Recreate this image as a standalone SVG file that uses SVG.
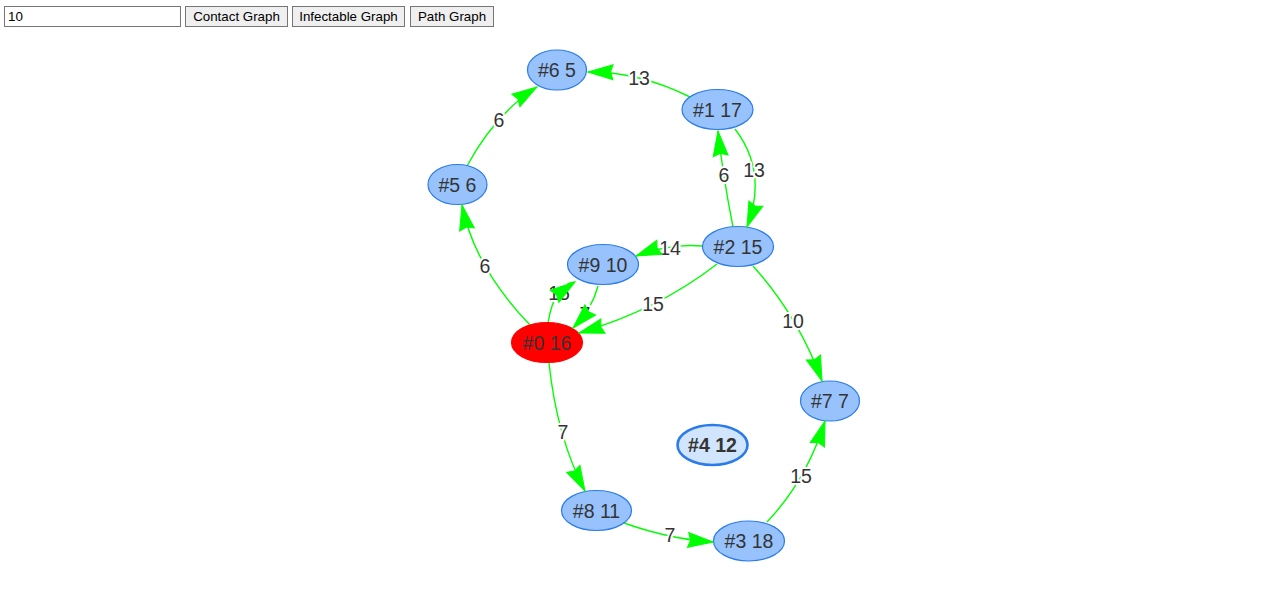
<svg xmlns="http://www.w3.org/2000/svg" width="1270" height="605" viewBox="0 0 1270 605">
<style>
.ui{font-family:"Liberation Sans",Arial,sans-serif;font-size:13.33px;fill:#000}
.btn{fill:#efefef;stroke:#767676;stroke-width:1}
.e{fill:none;stroke:#00ff00;stroke-width:1.4}
.el{font-family:"Liberation Sans",Arial,sans-serif;font-size:19.5px;fill:#343434;stroke:#fff;stroke-width:4;paint-order:stroke;stroke-linejoin:round;text-anchor:middle;dominant-baseline:central}
.n{fill:#97C2FC;stroke:#2B7CE9;stroke-width:1.2}
.nl{font-family:"Liberation Sans",Arial,sans-serif;font-size:19.5px;fill:#343434;text-anchor:middle;dominant-baseline:central}
.ah{fill:#00ff00;stroke:#00ff00;stroke-width:1}
</style>
<defs>
<path id="arr" d="M0,0 L-25,-7.5 L-22.5,0 L-25,7.5 Z"/>
</defs>
<rect width="1270" height="605" fill="#fff"/>
<g id="controls">
<rect x="4.5" y="6.5" width="176" height="20" fill="#fff" stroke="#767676"/>
<text class="ui" x="8" y="21">10</text>
<rect class="btn" x="185.5" y="6.5" width="102" height="20"/>
<text class="ui" x="236.5" y="21" text-anchor="middle">Contact Graph</text>
<rect class="btn" x="292.5" y="6.5" width="112" height="20"/>
<text class="ui" x="348.5" y="21" text-anchor="middle">Infectable Graph</text>
<rect class="btn" x="410.5" y="6.5" width="83" height="20"/>
<text class="ui" x="452" y="21" text-anchor="middle">Path Graph</text>
</g>
<g id="connectors">
<path class="e" d="M690,97 Q639,71.5 588,72"/>
<path class="e" d="M467,166 Q495.5,113.5 537,87"/>
<path class="e" d="M530,325 Q474,266.5 462,205"/>
<path class="e" d="M735,129 Q768,172 747,227"/>
<path class="e" d="M733,227 Q722.5,173.5 718,131"/>
<path class="e" d="M703,246 Q671,243 636,256"/>
<path class="e" d="M717,264 Q658,310 579,333"/>
<path class="e" d="M548,323 Q554.5,283.5 575,282"/>
<path class="e" d="M598,286 Q592.5,308.5 573,328"/>
<path class="e" d="M753,266 Q798.5,316.5 822,381"/>
<path class="e" d="M549,363 Q557,438 585,491"/>
<path class="e" d="M624,523 Q671,539.5 713,542"/>
<path class="e" d="M767,522 Q806.5,480.5 825,421"/>
<g id="edge-labels">
<text class="el" x="639" y="78">13</text>
<text class="el" x="499" y="120">6</text>
<text class="el" x="485" y="266">6</text>
<text class="el" x="754" y="170">13</text>
<text class="el" x="724" y="175">6</text>
<text class="el" x="670" y="248">14</text>
<text class="el" x="653" y="304">15</text>
<text class="el" x="559" y="293">15</text>
<text class="el" x="585" y="314">7</text>
<text class="el" x="793" y="321">10</text>
<text class="el" x="563" y="432">7</text>
<text class="el" x="670" y="535">7</text>
<text class="el" x="801" y="476">15</text>
</g>
</g>
<g id="node-6"><ellipse class="n" cx="557" cy="70" rx="29.5" ry="20"/><text class="nl" x="557" y="70">#6 5</text></g>
<g id="node-1"><ellipse class="n" cx="717.5" cy="109.5" rx="35.5" ry="20"/><text class="nl" x="717.5" y="109.5">#1 17</text></g>
<g id="node-5"><ellipse class="n" cx="457.5" cy="184.5" rx="29.5" ry="20"/><text class="nl" x="457.5" y="184.5">#5 6</text></g>
<g id="node-2"><ellipse class="n" cx="738" cy="246.5" rx="35.5" ry="20"/><text class="nl" x="738" y="246.5">#2 15</text></g>
<g id="node-9"><ellipse class="n" cx="603" cy="264.5" rx="35.5" ry="20"/><text class="nl" x="603" y="264.5">#9 10</text></g>
<g id="node-0"><ellipse cx="547" cy="342.5" rx="35.5" ry="20" fill="#ff0000" stroke="#ff0000" stroke-width="1.2"/><text class="nl" x="547" y="342.5">#0 16</text></g>
<g id="node-7"><ellipse class="n" cx="830" cy="401" rx="29.5" ry="20"/><text class="nl" x="830" y="401">#7 7</text></g>
<g id="node-4"><ellipse cx="712.5" cy="445" rx="35" ry="20" fill="#D2E5FF" stroke="#2B7CE9" stroke-width="2.6"/><text class="nl" x="712.5" y="445" font-weight="bold">#4 12</text></g>
<g id="node-8"><ellipse class="n" cx="596.5" cy="510.5" rx="35" ry="20"/><text class="nl" x="596.5" y="510.5">#8 11</text></g>
<g id="node-3"><ellipse class="n" cx="749" cy="541" rx="35.5" ry="20"/><text class="nl" x="749" y="541">#3 18</text></g>
<g id="arrowheads">
<use href="#arr" class="ah" transform="translate(588,72) rotate(180.6)"/>
<use href="#arr" class="ah" transform="translate(537,87) rotate(-32.5)"/>
<use href="#arr" class="ah" transform="translate(462,205) rotate(-101.5)"/>
<use href="#arr" class="ah" transform="translate(747,227) rotate(110.9)"/>
<use href="#arr" class="ah" transform="translate(718,131) rotate(-96)"/>
<use href="#arr" class="ah" transform="translate(636,256) rotate(159.5)"/>
<use href="#arr" class="ah" transform="translate(579,333) rotate(163.9)"/>
<use href="#arr" class="ah" transform="translate(575,282) rotate(-35)"/>
<use href="#arr" class="ah" transform="translate(573,328) rotate(133.7)"/>
<use href="#arr" class="ah" transform="translate(822,381) rotate(70)"/>
<use href="#arr" class="ah" transform="translate(585,491) rotate(62.2)"/>
<use href="#arr" class="ah" transform="translate(713,542) rotate(4.7)"/>
<use href="#arr" class="ah" transform="translate(825,421) rotate(-72.2)"/>
</g>
</svg>
